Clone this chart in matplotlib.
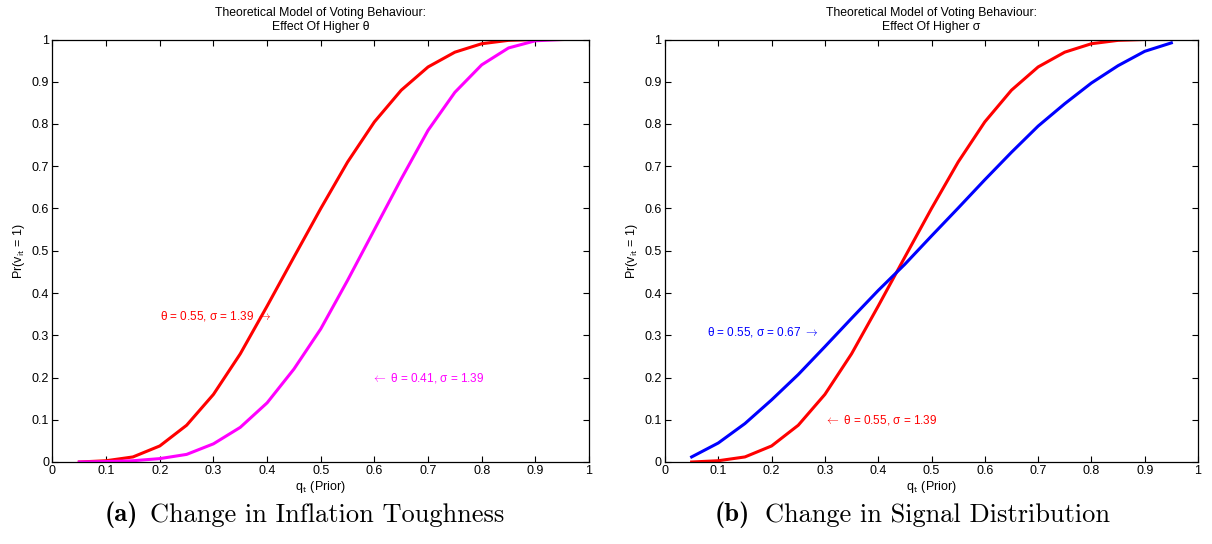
import numpy as np
import matplotlib
matplotlib.use("Agg")
import matplotlib.pyplot as plt

plt.rcParams['font.family'] = ['Liberation Sans', 'DejaVu Sans']
plt.rcParams['mathtext.fontset'] = 'cm'

# prior q_t
q = [0.05, 0.10, 0.15, 0.20, 0.25, 0.30, 0.35, 0.40, 0.45, 0.50,
     0.55, 0.60, 0.65, 0.70, 0.75, 0.80, 0.85, 0.90, 0.95]

# theta = 0.55, sigma = 1.39
pr_base = [0.000, 0.003, 0.012, 0.038, 0.087, 0.160, 0.256, 0.369, 0.485, 0.600,
           0.710, 0.805, 0.880, 0.935, 0.970, 0.990, 0.998, 1.000, 1.000]
# theta = 0.41, sigma = 1.39
pr_theta = [0.000, 0.001, 0.003, 0.008, 0.018, 0.043, 0.082, 0.140, 0.220, 0.315,
            0.430, 0.550, 0.670, 0.785, 0.875, 0.940, 0.980, 0.997, 1.000]
# theta = 0.55, sigma = 0.67
pr_sigma = [0.012, 0.045, 0.091, 0.147, 0.207, 0.273, 0.340, 0.406, 0.468, 0.535,
            0.601, 0.668, 0.733, 0.795, 0.848, 0.897, 0.938, 0.972, 0.992]

ticks = np.arange(0, 1.01, 0.1)
ticklabels = ['0', '0.1', '0.2', '0.3', '0.4', '0.5', '0.6', '0.7', '0.8', '0.9', '1']

W, H = 1212, 544
fig = plt.figure(figsize=(W / 100, H / 100), dpi=100)
ax1 = fig.add_axes([52.5 / W, (H - 462) / H, 536.5 / W, 422.5 / H])
ax2 = fig.add_axes([665 / W, (H - 462) / H, 533 / W, 422.5 / H])


def style(ax, title):
    ax.set_xlim(0, 1)
    ax.set_ylim(0, 1)
    ax.set_xticks(ticks)
    ax.set_yticks(ticks)
    ax.set_xticklabels(ticklabels)
    ax.set_yticklabels(ticklabels)
    ax.tick_params(direction='in', top=True, right=True, labelsize=9,
                   length=4, width=0.8, pad=2.5)
    for s in ax.spines.values():
        s.set_linewidth(0.9)
    ax.set_xlabel(r'q$_{\mathsf{t}}$ (Prior)', fontsize=9, labelpad=1)
    ax.set_ylabel(r'Pr(v$_{\mathsf{it}}$ = 1)', fontsize=9, labelpad=3)
    ax.set_title(title, fontsize=8.8, pad=7, linespacing=1.15)


arr_r = r'$\rightarrow$'
arr_l = r'$\leftarrow$'

ax1.plot(q, pr_base, color='#ff0000', lw=2.2)
ax1.plot(q, pr_theta, color='#ff00ff', lw=2.2)
ax1.text(0.2, 0.345, 'θ = 0.55, σ = 1.39 ' + arr_r, color='#ff0000', fontsize=8.5, va='center')
ax1.text(0.594, 0.199, arr_l + ' θ = 0.41, σ = 1.39', color='#ff00ff', fontsize=8.5, va='center')
style(ax1, 'Theoretical Model of Voting Behaviour:\nEffect Of Higher θ')

ax2.plot(q, pr_base, color='#ff0000', lw=2.2)
ax2.plot(q, pr_sigma, color='#0000ff', lw=2.2)
ax2.text(0.079, 0.308, 'θ = 0.55, σ = 0.67 ' + arr_r, color='#0000ff', fontsize=8.5, va='center')
ax2.text(0.299, 0.0995, arr_l + ' θ = 0.55, σ = 1.39', color='#ff0000', fontsize=8.5, va='center')
style(ax2, 'Theoretical Model of Voting Behaviour:\nEffect Of Higher σ')

# sub-figure captions
cap_y = 1 - 515 / H
fig.text(138 / W, cap_y, '(a)', family='cmb10', fontsize=19, ha='right', va='center')
fig.text(150 / W, cap_y, 'Change in Inflation Toughness', family='cmr10', fontsize=19,
         ha='left', va='center')
fig.text(750 / W, cap_y, '(b)', family='cmb10', fontsize=19, ha='right', va='center')
fig.text(765 / W, cap_y, 'Change in Signal Distribution', family='cmr10', fontsize=19,
         ha='left', va='center')

fig.savefig('out.png', dpi=100)
